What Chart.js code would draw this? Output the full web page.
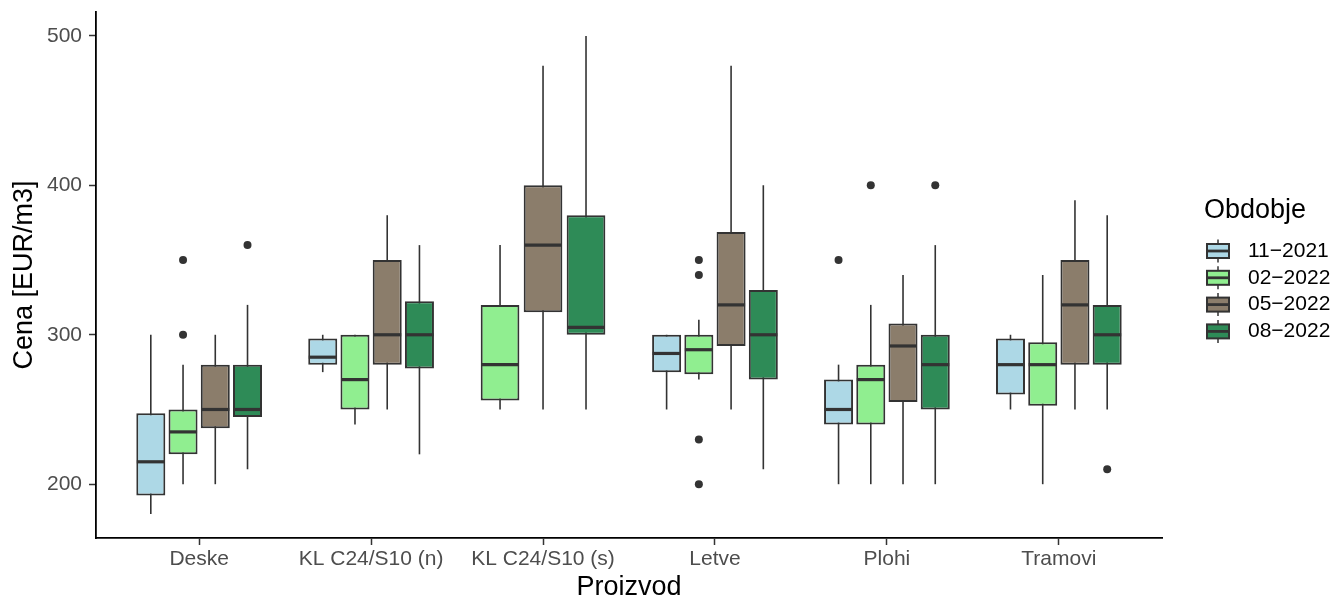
<!DOCTYPE html>
<html>
<head>
<meta charset="utf-8">
<script src="https://cdn.jsdelivr.net/npm/chart.js@4.4.1/dist/chart.umd.min.js"></script>
<style>
  html, body { margin: 0; padding: 0; background: #ffffff; }
  #wrap { width: 1337px; height: 599px; position: relative; }
</style>
</head>
<body>
<div id="wrap"><canvas id="c" width="1337" height="599"></canvas></div>
<script>
// ---------- data ----------
const categories = ['Deske', 'KL C24/S10 (n)', 'KL C24/S10 (s)', 'Letve', 'Plohi', 'Tramovi'];
const periods = ['11\u22122021', '02\u22122022', '05\u22122022', '08\u22122022'];
const yTicks = [200, 300, 400, 500];

// each entry: [lower whisker, Q1, median, Q3, upper whisker]
const box_11_2021 = [[180, 192.5, 215, 247.5, 300], [275, 280, 285, 297.5, 300], null, [250, 275, 287.5, 300, 300], [200, 240, 250, 270, 280], [250, 260, 280, 297.5, 300]];
const box_02_2022 = [[200, 220, 235, 250, 280], [240, 250, 270, 300, 300], [250, 256, 280, 320, 360], [270, 273.5, 290, 300, 310], [200, 240, 270, 280, 320], [200, 252.5, 280, 295, 340]];
const box_05_2022 = [[200, 237.5, 250, 280, 300], [250, 280, 300, 350, 380], [250, 315, 360, 400, 480], [250, 292.5, 320, 368.75, 480], [200, 255, 292.5, 307.5, 340], [250, 280, 320, 350, 390]];
const box_08_2022 = [[210, 245, 250, 280, 320], [220, 277.5, 300, 322.5, 360], [250, 300, 305, 380, 500], [210, 270, 300, 330, 400], [200, 250, 280, 300, 360], [250, 280, 300, 320, 380]];

const out_11_2021 = [[], [], [], [], [350], []];
const out_02_2022 = [[300, 350], [], [], [200, 230, 340, 350], [400], []];
const out_05_2022 = [[], [], [], [], [], []];
const out_08_2022 = [[360], [], [], [], [400], [210]];

// ---------- styles ----------
const fills = ['#ADD8E6', '#90EE90', '#8B7D6B', '#2E8B57'];
const boxes = [box_11_2021, box_02_2022, box_05_2022, box_08_2022];
const outs = [out_11_2021, out_02_2022, out_05_2022, out_08_2022];
const FAMILY = '"Liberation Sans", Arial, Helvetica, sans-serif';
const LINE = '#333333';

const datasets = periods.map((p, d) => ({
  label: p,
  data: categories.map((c, i) => ({ x: i + 1, y: boxes[d][i] ? [boxes[d][i][1], boxes[d][i][3]] : null })),
  stats: boxes[d],
  outliers: outs[d],
  backgroundColor: fills[d],
  borderColor: LINE,
  borderWidth: 2,
  borderSkipped: false,
  inflateAmount: 0,
  skipNull: true,
  categoryPercentage: 0.75,
  barPercentage: 0.9
}));

const boxParts = {
  id: 'boxParts',
  beforeDatasetsDraw(chart) {
    const ctx = chart.ctx, y = chart.scales.y;
    ctx.save();
    ctx.strokeStyle = LINE;
    ctx.lineWidth = 1.6;
    chart.data.datasets.forEach((ds, d) => {
      const meta = chart.getDatasetMeta(d);
      ds.stats.forEach((s, i) => {
        if (!s) return;
        const el = meta.data[i];
        ctx.beginPath();
        ctx.moveTo(el.x, y.getPixelForValue(s[0]));
        ctx.lineTo(el.x, y.getPixelForValue(s[4]));
        ctx.stroke();
      });
    });
    ctx.restore();
  },
  afterDatasetsDraw(chart) {
    const ctx = chart.ctx, y = chart.scales.y;
    ctx.save();
    chart.data.datasets.forEach((ds, d) => {
      const meta = chart.getDatasetMeta(d);
      ds.stats.forEach((s, i) => {
        if (!s) return;
        const el = meta.data[i];
        const half = el.width / 2;
        ctx.strokeStyle = LINE;
        ctx.lineWidth = 3.2;
        ctx.beginPath();
        const ym = y.getPixelForValue(s[2]);
        ctx.moveTo(el.x - half + 0.5, ym);
        ctx.lineTo(el.x + half - 0.5, ym);
        ctx.stroke();
        ctx.fillStyle = LINE;
        ds.outliers[i].forEach(v => {
          ctx.beginPath();
          ctx.arc(el.x, y.getPixelForValue(v), 4, 0, Math.PI * 2);
          ctx.fill();
        });
      });
    });
    ctx.restore();
  }
};

const legendPlugin = {
  id: 'boxLegend',
  afterDraw(chart) {
    const ctx = chart.ctx;
    ctx.save();
    ctx.fillStyle = '#000';
    ctx.textBaseline = 'middle';
    ctx.textAlign = 'left';
    ctx.font = '27px ' + FAMILY;
    ctx.fillText('Obdobje', 1204, 210.5);
    ctx.font = '21px ' + FAMILY;
    periods.forEach((p, k) => {
      const cy = 251 + k * 26.8;
      const cx = 1218;
      ctx.strokeStyle = LINE;
      ctx.lineWidth = 1.5;
      ctx.beginPath();
      ctx.moveTo(cx, cy - 11.5);
      ctx.lineTo(cx, cy + 11.5);
      ctx.stroke();
      ctx.fillStyle = fills[k];
      ctx.fillRect(cx - 11, cy - 7, 22, 14);
      ctx.lineWidth = 2;
      ctx.strokeRect(cx - 11, cy - 7, 22, 14);
      ctx.lineWidth = 2.8;
      ctx.beginPath();
      ctx.moveTo(cx - 11, cy);
      ctx.lineTo(cx + 11, cy);
      ctx.stroke();
      ctx.fillStyle = '#000';
      ctx.fillText(p, 1248, cy);
    });
    ctx.restore();
  }
};

new Chart(document.getElementById('c'), {
  type: 'bar',
  data: { datasets },
  plugins: [boxParts, legendPlugin],
  options: {
    responsive: false,
    animation: false,
    events: [],
    layout: { padding: { top: 12, right: 175, bottom: 0, left: 0 } },
    plugins: { legend: { display: false }, tooltip: { enabled: false } },
    scales: {
      x: {
        type: 'linear',
        min: 0.4,
        max: 6.6,
        offset: false,
        afterBuildTicks: s => { s.ticks = categories.map((c, i) => ({ value: i + 1 })); },
        afterFit: s => { s.height = 61; s.paddingLeft = 0; s.paddingRight = 0; },
        ticks: {
          callback: v => categories[v - 1] ?? '',
          font: { size: 21, family: FAMILY },
          color: '#4d4d4d',
          padding: 1.5,
          maxRotation: 0,
          autoSkip: false
        },
        grid: { display: true, drawOnChartArea: false, drawTicks: true, tickLength: 7, tickColor: LINE, tickWidth: 1.5, offset: false },
        border: { display: true, color: '#000', width: 1.8 },
        title: { display: true, text: 'Proizvod', color: '#000', font: { size: 27, family: FAMILY, lineHeight: 0.84 }, padding: 0 }
      },
      y: {
        type: 'linear',
        min: 164,
        max: 516,
        afterBuildTicks: s => { s.ticks = yTicks.map(v => ({ value: v })); },
        afterFit: s => { s.width = 96; s.paddingTop = 0; s.paddingBottom = 0; },
        ticks: { font: { size: 21, family: FAMILY }, color: '#4d4d4d', padding: 7 },
        grid: { display: true, drawOnChartArea: false, drawTicks: true, tickLength: 7, tickColor: LINE, tickWidth: 1.5 },
        border: { display: true, color: '#000', width: 1.8 },
        title: { display: true, text: 'Cena [EUR/m3]', color: '#000', font: { size: 27, family: FAMILY }, padding: { top: 8, bottom: 0 } }
      }
    }
  }
});
</script>
</body>
</html>
